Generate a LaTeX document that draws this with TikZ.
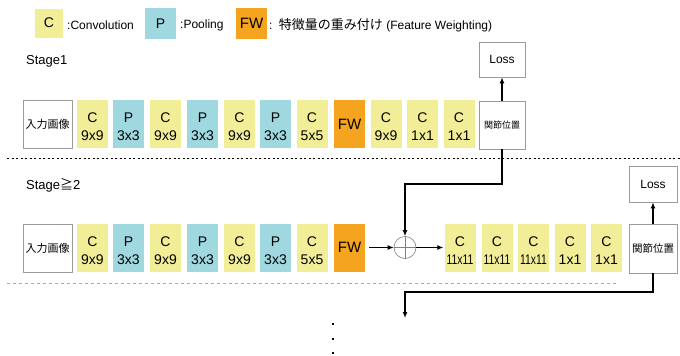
\documentclass[tikz,border=0pt]{standalone}
\usepackage{fontspec}
\setmainfont{Liberation Sans}
\newfontfamily\jp{Noto Sans CJK JP}
\usetikzlibrary{arrows.meta,calc}
\definecolor{cyel}{HTML}{F2EE98}
\definecolor{cblu}{HTML}{A0D8E0}
\definecolor{corg}{HTML}{F5A420}
\definecolor{bgray}{HTML}{9A9A9A}
\newcommand\twol[2]{\raisebox{-4pt}[\height][\depth]{\begin{tabular}{@{}c@{}}#1\\#2\end{tabular}}}
\newcommand\elev{\scalebox{0.74}[1]{11x11}}
\begin{document}
\begin{tikzpicture}[x=1pt,y=-1pt,
  blk/.style={minimum width=31pt,minimum height=48pt,inner sep=0pt,align=center,font=\fontsize{14}{18}\selectfont},
  cbox/.style={blk,fill=cyel},
  pbox/.style={blk,fill=cblu},
  fwbox/.style={blk,fill=corg,font=\fontsize{15}{18}\selectfont},
  wbox/.style={draw=bgray,line width=0.8pt,minimum height=48pt,inner sep=0pt},
  lossbox/.style={draw=bgray,line width=0.7pt,minimum width=46pt,minimum height=35pt,inner sep=0pt,font=\fontsize{12}{14}\selectfont},
  lgtext/.style={anchor=west,inner sep=0pt,font=\fontsize{12}{14}\selectfont},
  stagetext/.style={anchor=west,inner sep=0pt,font=\fontsize{13}{15}\selectfont},
  thk/.style={line width=2pt,-{Latex[length=6pt,width=5pt]}},
  arr/.style={line width=1.5pt,-{Latex[length=6pt,width=5pt]}},
  dotmark/.style={fill=black,minimum size=2.2pt,inner sep=0pt}
]
\useasboundingbox (0,0) rectangle (680,356);

% legend
\node[cbox,minimum width=28pt,minimum height=29pt] (lc) at (49,23) {C};
\node[lgtext] (lct) at (67,25) {:Convolution};
\node[pbox,minimum width=31pt,minimum height=31pt] (lp) at (160.5,23.5) {P};
\node[lgtext] (lpt) at (180,25) {:Pooling};
\node[fwbox,minimum width=31pt,minimum height=31pt] (lf) at (251.5,23.5) {FW};
\node[lgtext] (lft) at (269,25) {:\, {\jp\fontsize{13}{14}\selectfont 特徴量の重み付け} (Feature Weighting)};

% stage 1
\node[stagetext] (s1) at (26,61) {Stage1};
\node[wbox,minimum width=49pt,font=\jp\fontsize{11}{13}\selectfont] (in1) at (47.5,124.5) {入力画像};
\node[cbox] (a1) at (92.5,124) {\twol{C}{9x9}};
\node[pbox] (a2) at (128.5,124) {\twol{P}{3x3}};
\node[cbox] (a3) at (165.5,124) {\twol{C}{9x9}};
\node[pbox] (a4) at (202.5,124) {\twol{P}{3x3}};
\node[cbox] (a5) at (239.5,124) {\twol{C}{9x9}};
\node[pbox] (a6) at (275.5,124) {\twol{P}{3x3}};
\node[cbox] (a7) at (312,124) {\twol{C}{5x5}};
\node[fwbox] (a8) at (349.5,124) {FW};
\node[cbox] (a9) at (386,124) {\twol{C}{9x9}};
\node[cbox] (a10) at (422.5,124) {\twol{C}{1x1}};
\node[cbox] (a11) at (459,124) {\twol{C}{1x1}};
\node[wbox,minimum width=46pt,font=\jp\fontsize{9}{10}\selectfont] (j1) at (502,125) {関節位置};
\node[lossbox] (l1) at (502,59.5) {Loss};
\draw[thk] (j1) -- (l1);

\draw[line width=0.9pt,dash pattern=on 2pt off 2.5pt] (7,158) -- (680,158);

% stage 2
\node[stagetext] (s2) at (26,185) {Stage{\jp ≧}2};
\node[wbox,minimum width=49pt,font=\jp\fontsize{11}{13}\selectfont] (in2) at (47.5,248) {入力画像};
\node[cbox] (b1) at (92.5,247.5) {\twol{C}{9x9}};
\node[pbox] (b2) at (128.5,247.5) {\twol{P}{3x3}};
\node[cbox] (b3) at (165.5,247.5) {\twol{C}{9x9}};
\node[pbox] (b4) at (202.5,247.5) {\twol{P}{3x3}};
\node[cbox] (b5) at (239.5,247.5) {\twol{C}{9x9}};
\node[pbox] (b6) at (275.5,247.5) {\twol{P}{3x3}};
\node[cbox] (b7) at (312,247.5) {\twol{C}{5x5}};
\node[fwbox] (b8) at (349.5,247.5) {FW};
\node[circle,draw=gray,line width=0.6pt,minimum size=22pt,inner sep=0pt] (plus) at (405,247.5) {};
\draw[gray,line width=0.6pt] (plus.north) -- (plus.south) (plus.west) -- (plus.east);
\node[cbox] (c1) at (460,247.5) {\twol{C}{\elev}};
\node[cbox] (c2) at (497,247.5) {\twol{C}{\elev}};
\node[cbox] (c3) at (533.5,247.5) {\twol{C}{\elev}};
\node[cbox] (c4) at (570,247.5) {\twol{C}{1x1}};
\node[cbox] (c5) at (606.5,247.5) {\twol{C}{1x1}};
\node[wbox,minimum width=48pt,minimum height=49pt,font=\jp\fontsize{10.5}{12}\selectfont] (j2) at (653,248.5) {関節位置};
\node[lossbox,minimum width=48pt,minimum height=36pt] (l2) at (653,184) {Loss};
\draw[thk] (j2) -- (l2);

\draw[arr,shorten <=4pt] (b8) -- (plus);
\draw[arr,shorten >=1pt] (plus) -- (c1);
\draw[thk] (j1.south) -- ++(0,35) -| (plus.north);

\draw[gray!70,line width=0.9pt,dash pattern=on 3pt off 3pt] (7,283) -- (617,283);

\coordinate (nxt) at (405,318);
\draw[thk] (j2.south) -- ++(0,19) -| (nxt);

\node[dotmark] (d1) at (333,324) {};
\node[dotmark] (d2) at (333,339) {};
\node[dotmark] (d3) at (333,353) {};
\end{tikzpicture}
\end{document}
